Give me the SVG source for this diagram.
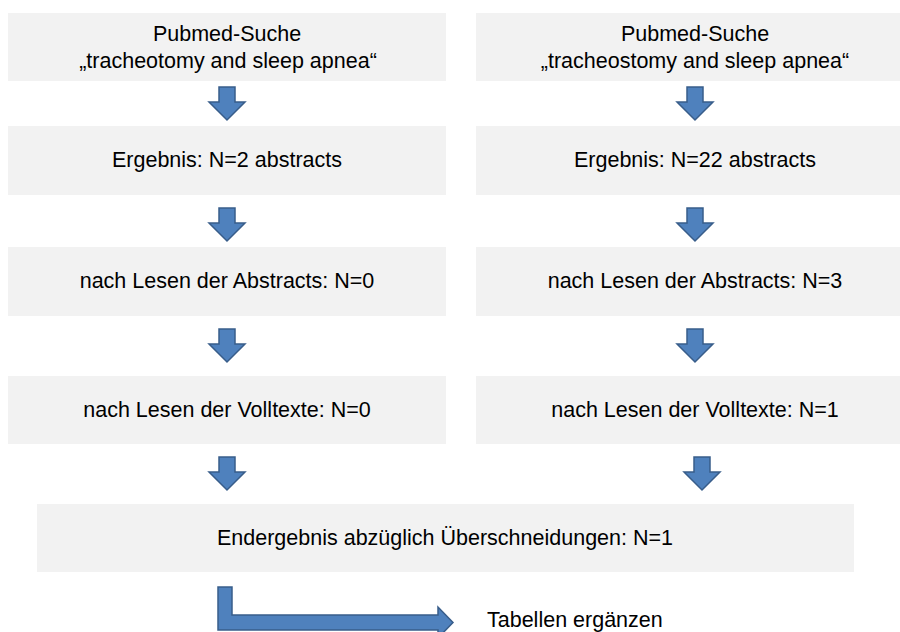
<svg xmlns="http://www.w3.org/2000/svg" width="900" height="632" viewBox="0 0 900 632">
  <style>
    .box { fill: #F2F2F2; }
    .lbl { font-family: "Liberation Sans", Arial, sans-serif; font-size: 21.5px; fill: #000; text-anchor: middle; }
    .arr { fill: #4F81BD; stroke: #385D8A; stroke-width: 1.5; stroke-linejoin: miter; }
  </style>
  <defs>
    <!-- block arrow pointing down, origin at top centre of the shaft -->
    <path id="down" d="M -8 0 H 8 V 15 H 18 L 0 33 L -18 15 H -8 Z"/>
  </defs>

  <!-- left column -->
  <g id="l1">
    <rect class="box" x="8" y="13" width="438" height="68"/>
    <text class="lbl" x="227" y="41">Pubmed-Suche</text>
    <text class="lbl" x="228" y="68">„tracheotomy and sleep apnea“</text>
  </g>
  <g id="l2">
    <rect class="box" x="8" y="126" width="438" height="69"/>
    <text class="lbl" x="227" y="167">Ergebnis: N=2 abstracts</text>
  </g>
  <g id="l3">
    <rect class="box" x="8" y="247" width="438" height="69"/>
    <text class="lbl" x="227" y="288">nach Lesen der Abstracts: N=0</text>
  </g>
  <g id="l4">
    <rect class="box" x="8" y="376" width="438" height="68"/>
    <text class="lbl" x="227" y="417">nach Lesen der Volltexte: N=0</text>
  </g>

  <!-- right column -->
  <g id="r1">
    <rect class="box" x="476" y="13" width="424" height="68"/>
    <text class="lbl" x="695" y="41">Pubmed-Suche</text>
    <text class="lbl" x="695" y="68">„tracheostomy and sleep apnea“</text>
  </g>
  <g id="r2">
    <rect class="box" x="476" y="126" width="424" height="69"/>
    <text class="lbl" x="695" y="167">Ergebnis: N=22 abstracts</text>
  </g>
  <g id="r3">
    <rect class="box" x="476" y="247" width="424" height="69"/>
    <text class="lbl" x="695" y="288">nach Lesen der Abstracts: N=3</text>
  </g>
  <g id="r4">
    <rect class="box" x="476" y="376" width="424" height="68"/>
    <text class="lbl" x="695" y="417">nach Lesen der Volltexte: N=1</text>
  </g>

  <!-- merged result -->
  <g id="final">
    <rect class="box" x="37" y="504" width="817" height="68"/>
    <text class="lbl" x="445" y="545">Endergebnis abzüglich Überschneidungen: N=1</text>
  </g>

  <g id="todo">
    <text class="lbl" x="487" y="627" style="text-anchor:start">Tabellen ergänzen</text>
  </g>

  <!-- connectors -->
  <g id="connectors">
    <use href="#down" class="arr" transform="translate(227 87)"/>
    <use href="#down" class="arr" transform="translate(227 208)"/>
    <use href="#down" class="arr" transform="translate(227 329)"/>
    <use href="#down" class="arr" transform="translate(227 457)"/>
    <use href="#down" class="arr" transform="translate(695 87)"/>
    <use href="#down" class="arr" transform="translate(695 208)"/>
    <use href="#down" class="arr" transform="translate(695 329)"/>
    <use href="#down" class="arr" transform="translate(702 457)"/>
    <!-- bent arrow from the result towards the follow-up step -->
    <path class="arr" d="M 218 587 H 232 V 615 H 438 V 607 L 453 622.5 L 438 638 V 630 H 218 Z"/>
  </g>
</svg>
